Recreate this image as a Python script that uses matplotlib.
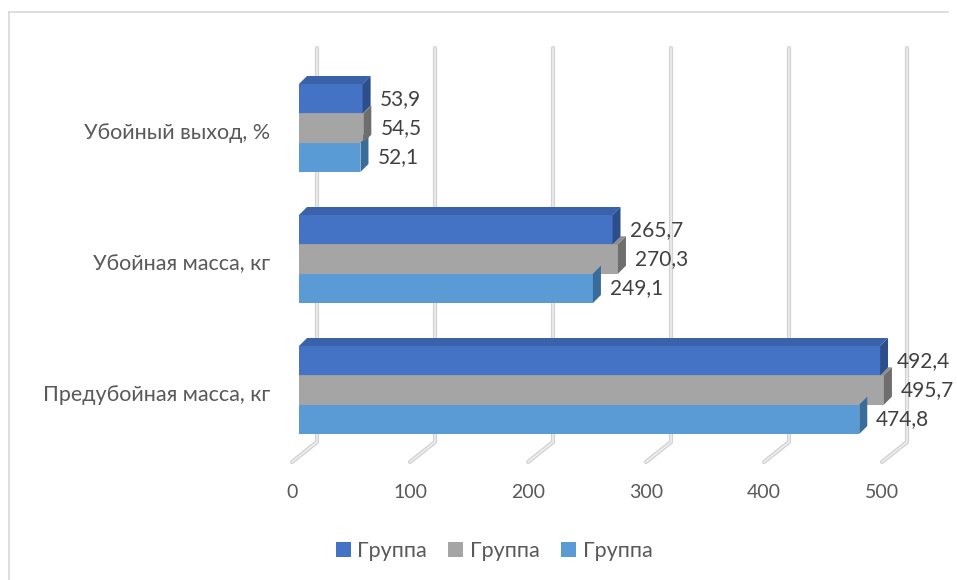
import matplotlib.pyplot as plt
from matplotlib.patches import Polygon, Patch
from matplotlib.lines import Line2D

categories = ['Убойный выход, %', 'Убойная масса, кг', 'Предубойная масса, кг']
group_dark = [53.9, 265.7, 492.4]
group_gray = [54.5, 270.3, 495.7]
group_light = [52.1, 249.1, 474.8]
series_names = ['Группа', 'Группа', 'Группа']
xticks = [0, 100, 200, 300, 400, 500]

# front / top / side colours for each series
colors = [('#4472C4', '#3a62ab', '#2c4f8c'),
          ('#A5A5A5', '#8e8e8e', '#6e6e6e'),
          ('#5B9BD5', '#4d87bd', '#3a6c9a')]
text_color = '#595959'

plt.rcParams['font.family'] = ['Lato', 'DejaVu Sans']

W, H = 957, 580
fig = plt.figure(figsize=(W / 100, H / 100), dpi=100)
ax = fig.add_axes([0, 0, 1, 1])

# pixel scale: value v -> x = 299 + 1.18 v ; category c -> y = 128 + 131 c
sx, x0 = 1.18, 299
sy, y0 = 131, 128
ax.set_xlim(-x0 / sx, (W - x0) / sx)
ax.set_ylim((H - y0) / sy, -y0 / sy)
ax.axis('off')

def px_x(p):
    return p / sx

def px_y(p):
    return p / sy

# gridlines with 3D floor
g_top = px_y(48 - y0)
g_back = px_y(442 - y0)
g_front = px_y(462 - y0)
for v in xticks:
    xs = [v + px_x(18), v + px_x(18), v - px_x(7)]
    ys = [g_top, g_back, g_front]
    ax.plot(xs, ys, color='#d2d2d2', lw=3, solid_capstyle='round', zorder=1)
    ax.plot(xs, ys, color='#f2f2f2', lw=1, zorder=1.1)
    ax.text(v - px_x(7), px_y(492 - y0), str(v), ha='center', va='center',
            fontsize=14, color=text_color)

h = 88 / 131 / 3
dx, dy = px_x(8), -px_y(8)
series = [group_dark, group_gray, group_light]
offsets = [-h, 0, h]

for ci in range(len(categories)):
    # fronts and tops from bottom to top
    for si in [2, 1, 0]:
        v = series[si][ci]
        yc = ci + offsets[si]
        yt = yc - h / 2
        ax.barh(yc, v, height=h, color=colors[si][0], zorder=2)
        ax.add_patch(Polygon([(0, yt), (v, yt), (v + dx, yt + dy), (dx, yt + dy)],
                             closed=True, facecolor=colors[si][1], edgecolor='none', zorder=2))
    # side faces, longer bars in front
    order = sorted(range(3), key=lambda s: series[s][ci])
    for k, si in enumerate(order):
        v = series[si][ci]
        yc = ci + offsets[si]
        yt, yb = yc - h / 2, yc + h / 2
        ax.add_patch(Polygon([(v, yt), (v, yb), (v + dx, yb + dy), (v + dx, yt + dy)],
                             closed=True, facecolor=colors[si][2], edgecolor='none', zorder=3 + k * 0.1))
    for si in range(3):
        v = series[si][ci]
        ax.text(v + px_x(17), ci + offsets[si], f'{v:.1f}'.replace('.', ','),
                ha='left', va='center', fontsize=15, color='#404040', zorder=5)
    ax.text(px_x(270 - x0), ci + px_y(5), categories[ci], ha='right', va='center',
            fontsize=15.5, color=text_color)

# chart border
fig.add_artist(Line2D([9 / W, 948 / W], [1 - 12 / H, 1 - 12 / H], color='#d9d9d9', lw=1.2))
fig.add_artist(Line2D([9 / W, 9 / W], [1 - 12 / H, 0], color='#d9d9d9', lw=1.2))

handles = [Patch(facecolor=c[0], edgecolor='none') for c in colors]
fig.legend(handles, series_names, loc='center', bbox_to_anchor=(494 / W, 1 - 551 / H),
           ncol=3, frameon=False, fontsize=15.5, handlelength=0.7, handleheight=0.7,
           handletextpad=0.3, columnspacing=1.0, labelcolor=text_color)

fig.savefig('out.png', dpi=100)
